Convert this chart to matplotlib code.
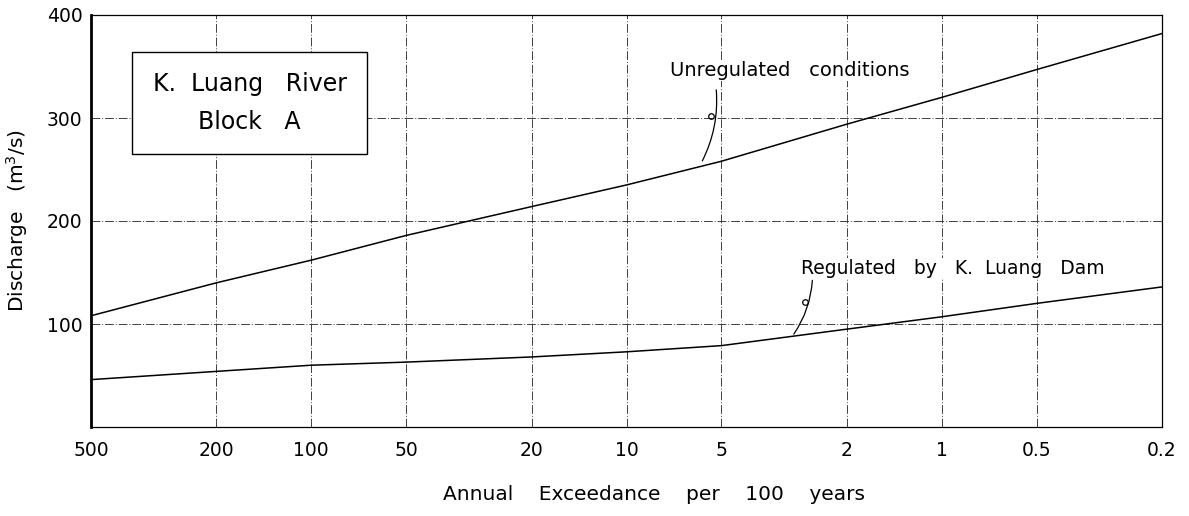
import numpy as np
import matplotlib.pyplot as plt
from matplotlib.ticker import FixedLocator, NullLocator

plt.rcParams['font.family'] = ['DejaVu Sans']

# annual exceedance per 100 years
exceed = [500, 200, 100, 50, 20, 10, 5, 2, 1, 0.5, 0.2]
unregulated = [108, 140, 162, 186, 214, 235, 258, 294, 320, 347, 382]
regulated = [46, 54, 60, 63, 68, 73, 79, 95, 107, 120, 136]

xtick_vals = [500, 200, 100, 50, 20, 10, 5, 2, 1, 0.5, 0.2]
xtick_text = ['500', '200', '100', '50', '20', '10', '5', '2', '1', '0.5', '0.2']
ytick_vals = [100, 200, 300, 400]

fig = plt.figure(figsize=(11.89, 5.16), dpi=100)
ax = fig.add_axes([91/1189, 1-427/516, (1162-91)/1189, (427-15)/516])

ax.plot(exceed, unregulated, color='black', lw=1.1)
ax.plot(exceed, regulated, color='black', lw=1.1)

ax.set_xscale('log')
ax.set_xlim(500, 0.2)
ax.set_ylim(0, 400)
ax.xaxis.set_major_locator(FixedLocator(xtick_vals))
ax.xaxis.set_minor_locator(NullLocator())
ax.set_xticklabels(xtick_text)
ax.set_yticks(ytick_vals)
ax.tick_params(length=0, labelsize=13.5, pad=10)
ax.tick_params(axis='y', pad=6)

ax.grid(True, color='0.25', lw=0.7, ls=(0, (9, 2, 1, 2)))
for s in ax.spines.values():
    s.set_linewidth(0.9)
ax.spines['left'].set_linewidth(2.0)

ax.set_xlabel('Annual    Exceedance    per    100    years', fontsize=14.5, va='center')
ax.xaxis.set_label_coords(0.526, -0.163)
ax.set_ylabel('Discharge   (m$^3$/s)', fontsize=14.5, labelpad=12)

# title box
ax.text(0.148, 0.786, 'K.  Luang   River\nBlock   A', transform=ax.transAxes,
        ha='center', va='center', fontsize=17, linespacing=1.75,
        bbox=dict(boxstyle='square,pad=0.85', fc='white', ec='black', lw=1.0))

# curve labels with hand-drawn leaders
ax.text(7.3, 346, 'Unregulated   conditions', ha='left', va='center', fontsize=14,
        bbox=dict(fc='white', ec='none', pad=1))
ax.annotate('', xy=(5.8, 256), xytext=(5.2, 330),
            arrowprops=dict(arrowstyle='-', color='black', lw=0.9,
                            connectionstyle='arc3,rad=-0.15'))
ax.plot([5.4], [302], marker='o', ms=4, mfc='none', mec='black', mew=0.9)

ax.text(2.8, 154, 'Regulated   by   K.  Luang   Dam', ha='left', va='center', fontsize=13.5,
        bbox=dict(fc='white', ec='none', pad=1))
ax.annotate('', xy=(2.98, 88), xytext=(2.57, 145),
            arrowprops=dict(arrowstyle='-', color='black', lw=0.9,
                            connectionstyle='arc3,rad=-0.15'))
ax.plot([2.71], [121], marker='o', ms=4, mfc='none', mec='black', mew=0.9)

fig.savefig('out.png', dpi=100)
